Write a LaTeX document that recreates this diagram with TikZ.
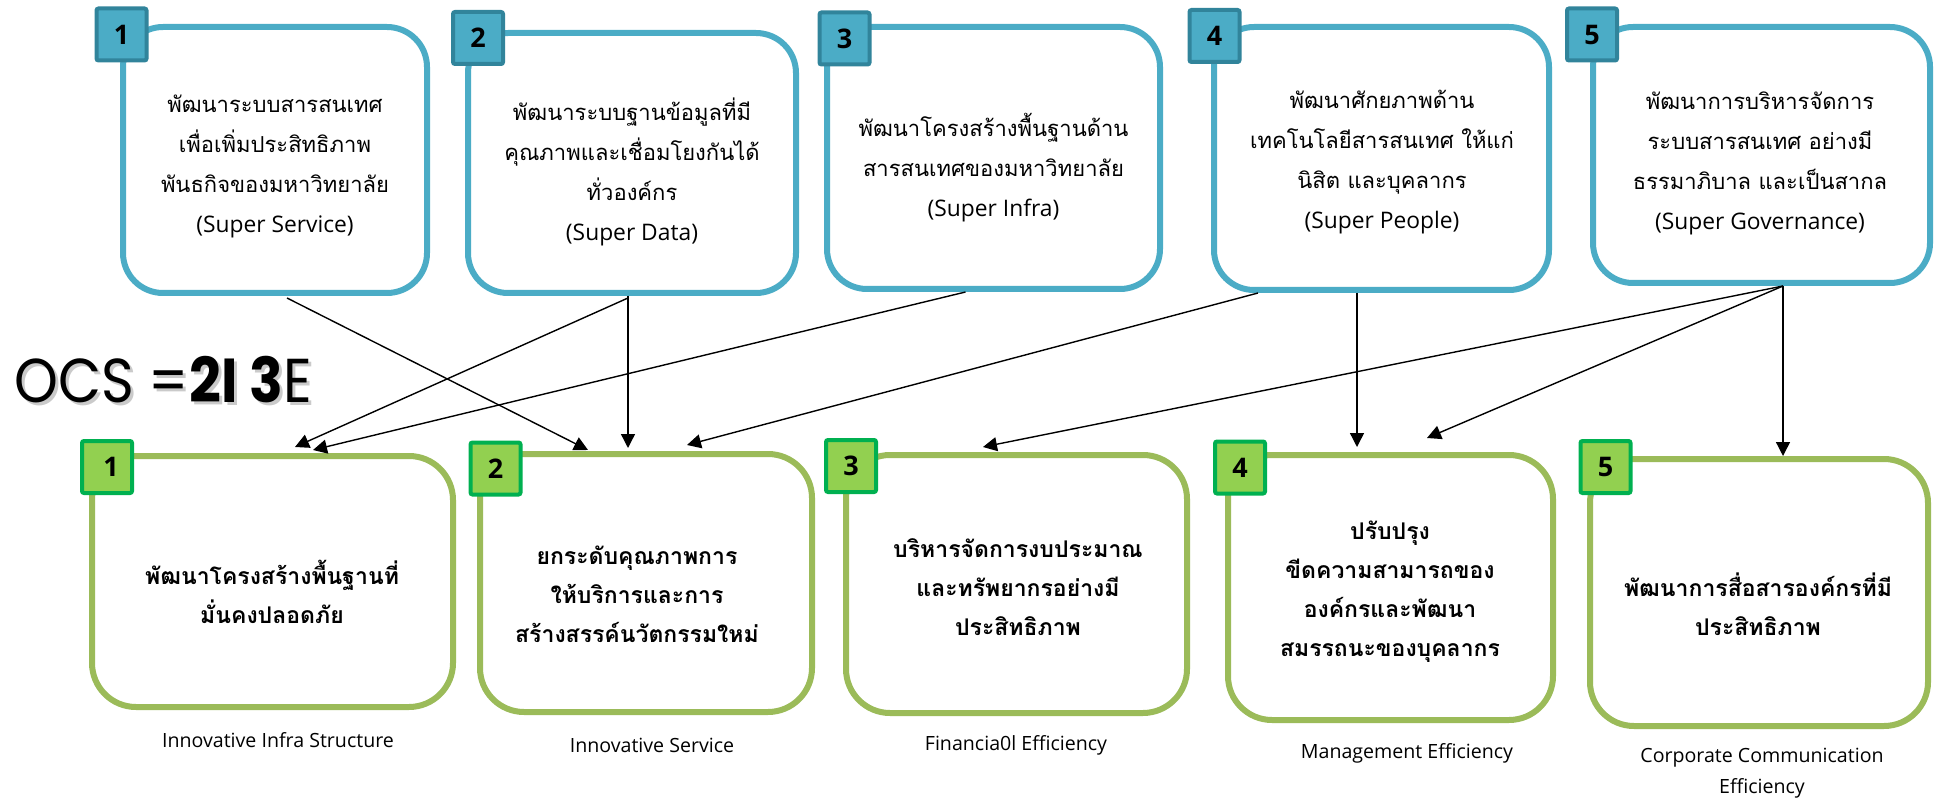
\documentclass[tikz,border=0pt]{standalone}
\usepackage{fontspec}
\setmainfont{Open Sans}
\newfontfamily\thaif[Script=Thai]{Loma}
\newfontfamily\ocsf{Poppins}
\usetikzlibrary{arrows.meta,calc}
\definecolor{topblue}{HTML}{4BACC6}
\definecolor{topbadge}{HTML}{31849B}
\definecolor{botgreen}{HTML}{9BBB59}
\definecolor{badgefill}{HTML}{92D050}
\definecolor{badgeline}{HTML}{00B050}
\begin{document}
\begin{tikzpicture}[x=0.5pt,y=-0.5pt,
  topbox/.style={draw=topblue,line width=3pt,rounded corners=20pt,fill=white,inner sep=0pt},
  botbox/.style={draw=botgreen,line width=3pt,rounded corners=22pt,fill=white,inner sep=0pt},
  topbadgest/.style={draw=topbadge,fill=topblue,line width=2pt,rounded corners=1pt,minimum width=25pt,minimum height=26pt,inner sep=0pt,font=\bfseries\fontsize{13.5}{13.5}\selectfont},
  botbadgest/.style={draw=badgeline,fill=badgefill,line width=2pt,rounded corners=1pt,minimum width=25pt,minimum height=26pt,inner sep=0pt,font=\bfseries\fontsize{13.5}{13.5}\selectfont},
  toptext/.style={align=center,inner sep=0pt,font=\thaif\fontsize{11}{20}\selectfont},
  bottext/.style={align=center,inner sep=0pt,font=\thaif\bfseries\fontsize{11.5}{19.5}\selectfont},
  engl/.style={align=center,inner sep=0pt,font=\fontsize{9.8}{15.5}\selectfont},
  ocsst/.style={anchor=base west,inner sep=0pt,xscale=0.9,transform shape,font=\ocsf\fontsize{31}{31}\selectfont},
  conn/.style={line width=0.7pt,-{Triangle[length=7pt,width=7pt]}}]
\useasboundingbox (0,0) rectangle (1938,802);

% OCS title
\node[ocsst,text=black!35,opacity=0.6] (ocsshadow) at (17,405) {OCS =\textbf{2I 3}E};
\node[ocsst] (ocs) at (14,402) {OCS =\textbf{2I 3}E};

% top boxes
\node[topbox,minimum width=152pt,minimum height=133pt] (top1) at (275,160) {};
\node[topbox,minimum width=164pt,minimum height=130pt] (top2) at (632,163) {};
\node[topbox,minimum width=166.5pt,minimum height=131pt] (top3) at (993.5,158) {};
\node[topbox,minimum width=167.5pt,minimum height=131.5pt] (top4) at (1381.5,158.5) {};
\node[topbox,minimum width=168.5pt,minimum height=128pt] (top5) at (1761.5,155) {};

\node[toptext] (tt1) at (275,166) {พัฒนาระบบสารสนเทศ\\เพื่อเพิ่มประสิทธิภาพ\\พันธกิจของมหาวิทยาลัย\\{\normalfont\fontsize{11.4}{20}\selectfont (Super Service)}};
\node[toptext] (tt2) at (632,172) {พัฒนาระบบฐานข้อมูลที่มี\\คุณภาพและเชื่อมโยงกันได้\\ทั่วองค์กร\\{\normalfont\fontsize{11.4}{20}\selectfont (Super Data)}};
\node[toptext] (tt3) at (993.5,168) {พัฒนาโครงสร้างพื้นฐานด้าน\\สารสนเทศของมหาวิทยาลัย\\{\normalfont\fontsize{11.4}{20}\selectfont (Super Infra)}};
\node[toptext] (tt4) at (1382,162) {พัฒนาศักยภาพด้าน\\เทคโนโลยีสารสนเทศ ให้แก่\\นิสิต และบุคลากร\\{\normalfont\fontsize{11.4}{20}\selectfont (Super People)}};
\node[toptext] (tt5) at (1760,163) {พัฒนาการบริหารจัดการ\\ระบบสารสนเทศ อย่างมี\\ธรรมาภิบาล และเป็นสากล\\{\normalfont\fontsize{11.4}{20}\selectfont (Super Governance)}};

\node[topbadgest] (tb1) at (121.5,34.5) {1};
\node[topbadgest] (tb2) at (478,38) {2};
\node[topbadgest] (tb3) at (844.5,38.5) {3};
\node[topbadgest] (tb4) at (1214.5,36) {4};
\node[topbadgest] (tb5) at (1592,34.5) {5};

% bottom boxes
\node[botbox,minimum width=180.5pt,minimum height=125.5pt] (bot1) at (272.5,581.5) {};
\node[botbox,minimum width=166pt,minimum height=129pt] (bot2) at (646,583) {};
\node[botbox,minimum width=170.5pt,minimum height=129pt] (bot3) at (1016.5,584) {};
\node[botbox,minimum width=162.5pt,minimum height=132.5pt] (bot4) at (1390.5,587.5) {};
\node[botbox,minimum width=169pt,minimum height=133.5pt] (bot5) at (1759,592.5) {};

\node[bottext] (bt1) at (272,592) {พัฒนาโครงสร้างพื้นฐานที่\\มั่นคงปลอดภัย};
\node[bottext] (bt2) at (637,594) {ยกระดับคุณภาพการ\\ให้บริการและการ\\สร้างสรรค์นวัตกรรมใหม่};
\node[bottext] (bt3) at (1018,587) {บริหารจัดการงบประมาณ\\และทรัพยากรอย่างมี\\ประสิทธิภาพ};
\node[bottext] (bt4) at (1390,592) {ปรับปรุง\\ขีดความสามารถของ\\องค์กรและพัฒนา\\สมรรถนะของบุคลากร};
\node[bottext] (bt5) at (1758,604) {พัฒนาการสื่อสารองค์กรที่มี\\ประสิทธิภาพ};

\node[botbadgest] (bb1) at (107,467) {\hspace*{4pt}1};
\node[botbadgest] (bb2) at (495.5,468.5) {2};
\node[botbadgest] (bb3) at (851,466) {3};
\node[botbadgest] (bb4) at (1240,467.5) {4};
\node[botbadgest] (bb5) at (1605.5,467) {5};

% captions
\node[engl] (c1) at (278,740) {Innovative Infra Structure};
\node[engl] (c2) at (652,745) {Innovative Service};
\node[engl] (c3) at (1016,745) {Financia0l Efficiency};
\node[engl] (c4) at (1407,753) {Management Efficiency};
\node[engl] (c5) at (1762,773) {Corporate Communication\\Efficiency};

% connectors
\draw[conn] ($(top1.south)+(12,2)$) -- ($(bot2.north)+(-58,-1)$);
\draw[conn] ($(top2.south)+(-4,2)$) -- ($(bot1.north)+(22.5,-6)$);
\draw[conn] ($(top2.south)+(-4,0)$) -- ($(bot2.north)+(-18,-3)$);
\draw[conn] ($(top3.south)+(-28,0)$) -- ($(bot1.north)+(40.5,-3)$);
\draw[conn] ($(top4.south)+(-123.5,0)$) -- ($(bot2.north)+(41,-6)$);
\draw[conn] ($(top4.south)+(-24.5,0)$) -- ($(bot4.north)+(-33.5,-5)$);
\draw[conn] ($(top5.south)+(21.5,0)$) -- ($(bot3.north)+(-33.5,-5)$);
\draw[conn] ($(top5.south)+(21.5,0)$) -- ($(bot4.north)+(36.5,-14)$);
\draw[conn] ($(top5.south)+(21.5,0)$) -- ($(bot5.north)+(24,0)$);
\end{tikzpicture}
\end{document}
